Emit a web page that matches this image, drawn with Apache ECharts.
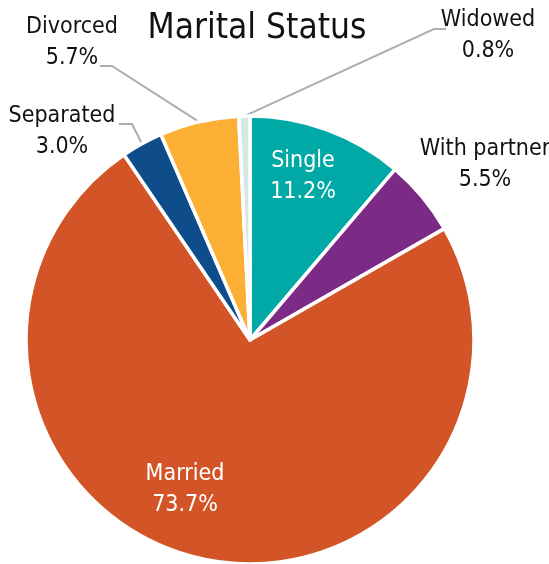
<!DOCTYPE html>
<html>
<head>
<meta charset="utf-8">
<style>
  html, body { margin: 0; padding: 0; background: #ffffff; }
  #chart { width: 549px; height: 564px; }
</style>
<script src="https://cdn.jsdelivr.net/npm/echarts@6/dist/echarts.min.js"></script>
</head>
<body>
<div id="chart"></div>
<script>
// Marital status shares, clockwise from 12 o'clock
var categories = ['Single', 'With partner', 'Married', 'Separated', 'Divorced', 'Widowed'];
var shares = [11.2, 5.5, 73.7, 3.0, 5.7, 0.8];
var colors = ['#00A9A5', '#7B2A86', '#D35527', '#0F4C8A', '#FBAF35', '#D6E7E6'];
var insideLabels = ['Single', 'Married'];
var hiddenLines = ['With partner'];

// Where each label block sits, plus where its leader line meets the text
var labelSpots = {
  'Single':       { x: 303, y: 177 },
  'With partner': { x: 485, y: 165 },
  'Married':      { x: 185, y: 490 },
  'Separated':    { x: 62,  y: 132, ex: 57,  ey: -8,  elbow: 13 },
  'Divorced':     { x: 72,  y: 43,  ex: 28,  ey: 23,  elbow: 12 },
  'Widowed':      { x: 488, y: 36,  ex: -42, ey: -7,  elbow: -12 }
};

var FONT = '"Liberation Sans Narrow", "DejaVu Sans Condensed", "Arial Narrow", sans-serif';

var data = categories.map(function (name, i) {
  var inside = insideLabels.indexOf(name) >= 0;
  var item = {
    name: name,
    value: shares[i],
    itemStyle: { color: colors[i] }
  };
  if (inside) {
    item.label = { position: 'inside', color: '#ffffff' };
  }
  if (hiddenLines.indexOf(name) >= 0) {
    item.labelLine = { show: false };
  }
  return item;
});

var chart = echarts.init(document.getElementById('chart'), null, { renderer: 'canvas' });

chart.setOption({
  backgroundColor: '#ffffff',
  animation: false,
  title: {
    text: 'Marital Status',
    left: 252,
    textAlign: 'center',
    top: 6,
    textStyle: {
      fontFamily: FONT,
      fontSize: 35,
      fontWeight: 'normal',
      color: '#111111'
    }
  },
  series: [{
    type: 'pie',
    center: [250, 340],
    radius: 224,
    startAngle: 90,
    clockwise: true,
    avoidLabelOverlap: false,
    itemStyle: { borderColor: '#ffffff', borderWidth: 3.5 },
    label: {
      show: true,
      position: 'outside',
      fontFamily: FONT,
      fontSize: 23,
      lineHeight: 31,
      color: '#111111',
      align: 'center',
      formatter: function (p) {
        return p.name + '\n' + p.value.toFixed(1) + '%';
      }
    },
    labelLine: {
      show: true,
      length: 10,
      length2: 10,
      lineStyle: { color: '#A9B0B5', width: 2 }
    },
    labelLayout: function (p) {
      var name = categories[p.dataIndex];
      var spot = labelSpots[name];
      if (!spot) return {};
      var out = { x: spot.x, y: spot.y, align: 'center', verticalAlign: 'middle' };
      if (spot.ex != null && p.labelLinePoints) {
        var start = p.labelLinePoints[0];
        var end = [spot.x + spot.ex, spot.y + spot.ey];
        var elbow = [end[0] + spot.elbow, end[1]];
        out.labelLinePoints = [start, elbow, end];
      }
      return out;
    },
    data: data
  }]
});
</script>
</body>
</html>
